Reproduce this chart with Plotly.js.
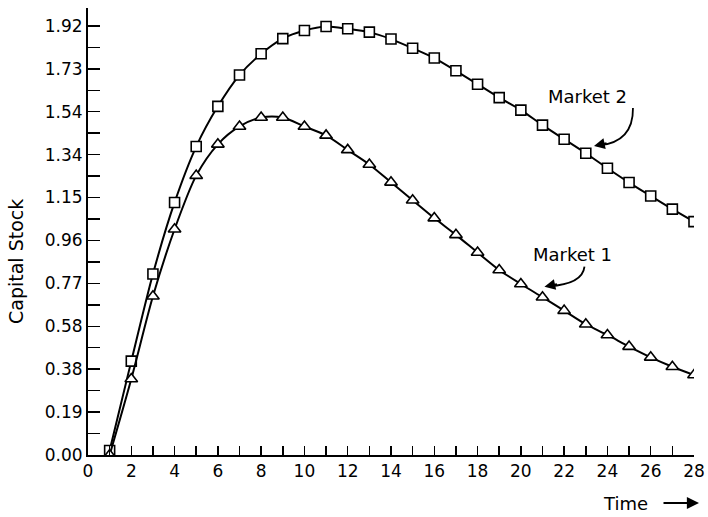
<!DOCTYPE html>
<html>
<head>
<meta charset="utf-8">
<script src="https://cdn.plot.ly/plotly-3.0.1.min.js"></script>
<style>html,body{margin:0;padding:0;background:#fff;}#chart{width:708px;height:517px;}</style>
</head>
<body>
<div id="chart"></div>
<script>
const time = [1,2,3,4,5,6,7,8,9,10,11,12,13,14,15,16,17,18,19,20,21,22,23,24,25,26,27,28];
const market1 = [0.00,0.34,0.71,1.01,1.25,1.39,1.47,1.51,1.51,1.47,1.43,1.365,1.30,1.22,1.14,1.06,0.985,0.906,0.828,0.765,0.706,0.646,0.585,0.537,0.485,0.437,0.395,0.358];
const market2 = [0.02,0.42,0.81,1.13,1.38,1.56,1.70,1.795,1.863,1.899,1.917,1.907,1.892,1.861,1.82,1.776,1.719,1.659,1.599,1.543,1.476,1.413,1.35,1.283,1.219,1.159,1.10,1.044];
const yTickVals = [0,0.192,0.384,0.576,0.768,0.96,1.152,1.344,1.536,1.728,1.92];
const yTickText = ["0.00","0.19","0.38","0.58","0.77","0.96","1.15","1.34","1.54","1.73","1.92"];
const xTickVals = [0,2,4,6,8,10,12,14,16,18,20,22,24,26,28];
const xTickText = ["0","2","4","6","8","10","12","14","16","18","20","22","24","26","28"];

const font = "DejaVu Sans, Liberation Sans, sans-serif";

const traces = [
  {x: time, y: market2, mode: 'lines+markers', name: 'Market 2',
   line: {color: '#000', width: 2, shape: 'spline', smoothing: 0.8},
   marker: {symbol: 'square', size: 10, color: '#fff', line: {color: '#000', width: 1.6}}},
  {x: time, y: market1, mode: 'lines+markers', name: 'Market 1',
   line: {color: '#000', width: 2, shape: 'spline', smoothing: 0.8},
   marker: {symbol: 'triangle-up', size: 11, color: '#fff', line: {color: '#000', width: 1.6}}}
];

const layout = {
  width: 708, height: 517,
  margin: {l: 88, r: 14, t: 8, b: 62},
  paper_bgcolor: '#fff', plot_bgcolor: '#fff',
  showlegend: false,
  font: {family: font, color: '#000', size: 17},
  xaxis: {
    range: [0, 28], showgrid: false, zeroline: false,
    showline: true, linecolor: '#000', linewidth: 2,
    tickmode: 'array', tickvals: xTickVals, ticktext: xTickText,
    ticks: 'inside', ticklen: 9, tickwidth: 1.5, tickcolor: '#000',
    minor: {dtick: 1, tick0: 0, ticks: 'inside', ticklen: 9, tickwidth: 1.5, tickcolor: '#000', showgrid: false},
    tickfont: {family: font, size: 17, color: '#000'}
  },
  yaxis: {
    range: [0, 2.0], showgrid: false, zeroline: false,
    showline: true, linecolor: '#000', linewidth: 2,
    tickmode: 'array', tickvals: yTickVals, ticktext: yTickText,
    ticks: 'inside', ticklen: 12, tickwidth: 1.5, tickcolor: '#000',
    minor: {dtick: 0.192, tick0: 0.096, ticks: 'inside', ticklen: 12, tickwidth: 1.5, tickcolor: '#000', showgrid: false},
    tickfont: {family: font, size: 17, color: '#000'}
  },
  shapes: [
    {type: 'path', xref: 'x', yref: 'y', path: 'M 25.18,1.553 Q 25.2,1.40 23.6,1.385', line: {color: '#000', width: 1.8}},
    {type: 'path', xref: 'x', yref: 'y', path: 'M 22.94,0.843 Q 22.85,0.765 21.3,0.755', line: {color: '#000', width: 1.8}}
  ],
  annotations: [
    {x: 23.1, y: 1.603, xref: 'x', yref: 'y', xanchor: 'center', yanchor: 'middle', text: 'Market 2', showarrow: false, font: {family: font, size: 18, color: '#000'}},
    {x: 23.38, y: 1.383, xref: 'x', yref: 'y', ax: 14, ay: -3, text: '', showarrow: true, arrowhead: 2, arrowsize: 1.2, arrowwidth: 1.8, arrowcolor: '#000'},
    {x: 22.39, y: 0.899, xref: 'x', yref: 'y', xanchor: 'center', yanchor: 'middle', text: 'Market 1', showarrow: false, font: {family: font, size: 18, color: '#000'}},
    {x: 21.09, y: 0.753, xref: 'x', yref: 'y', ax: 14, ay: -3, text: '', showarrow: true, arrowhead: 2, arrowsize: 1.2, arrowwidth: 1.8, arrowcolor: '#000'},
    {xref: 'paper', yref: 'paper', xanchor: 'center', yanchor: 'middle', text: 'Capital Stock', textangle: -90, showarrow: false, font: {family: font, size: 19, color: '#000'}},
    {xref: 'paper', yref: 'paper', xanchor: 'center', yanchor: 'middle', text: 'Time', showarrow: false, font: {family: font, size: 18, color: '#000'}},
    {xref: 'paper', yref: 'paper', axref: 'paper', ayref: 'paper', text: '', showarrow: true, arrowhead: 2, arrowsize: 1.1, arrowwidth: 2.2, arrowcolor: '#000'}
  ]
};

// place pixel-positioned annotations (Capital Stock, Time, arrow) in paper coords
const plotW = 708 - 88 - 14, plotH = 517 - 8 - 62;
function px2paperX(px){ return (px - 88) / plotW; }
function px2paperY(py){ return (517 - 62 - py) / plotH; }
const ann = layout.annotations;
ann[4].x = px2paperX(16); ann[4].y = px2paperY(262);
ann[5].x = px2paperX(625); ann[5].y = px2paperY(503);
ann[6].x = px2paperX(699); ann[6].y = px2paperY(503); ann[6].ax = px2paperX(662); ann[6].ay = px2paperY(503);

Plotly.newPlot('chart', traces, layout, {displayModeBar: false, staticPlot: true});
</script>
</body>
</html>
